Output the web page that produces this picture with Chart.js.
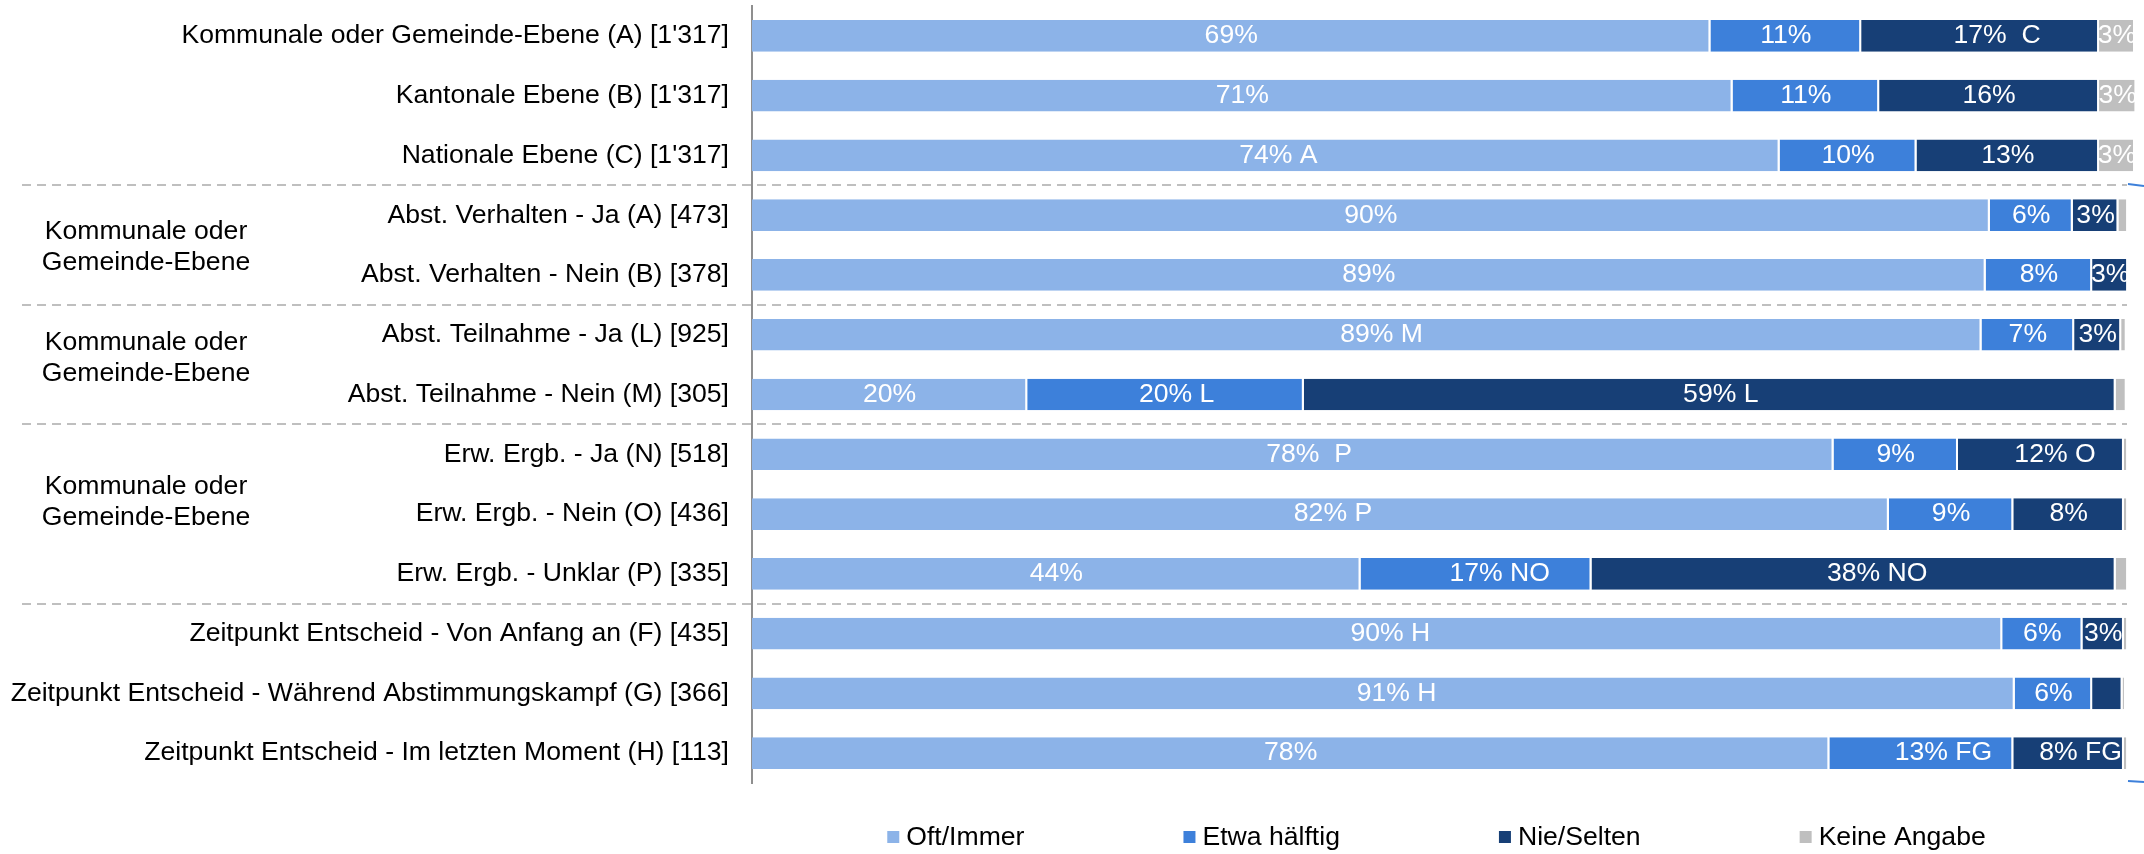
<!DOCTYPE html>
<html>
<head>
<meta charset="utf-8">
<title>Abstimmungsverhalten nach Ebene</title>
<script src="https://cdn.jsdelivr.net/npm/chart.js@4.4.1/dist/chart.umd.min.js"></script>
<style>
    html, body { margin: 0; padding: 0; background: #fff; }
    #wrap { width: 2144px; height: 854px; }
</style>
</head>
<body>
<div id="wrap"><canvas id="chart" width="2144" height="854"></canvas></div>
<script>
const FONT = "'Liberation Sans', Arial, Helvetica, sans-serif";
const TEXT_SIZE = 26.6;

const categories = [
    "Kommunale oder Gemeinde-Ebene (A) [1'317]",
    "Kantonale Ebene (B) [1'317]",
    "Nationale Ebene (C) [1'317]",
    'Abst. Verhalten - Ja (A) [473]',
    'Abst. Verhalten - Nein (B) [378]',
    'Abst. Teilnahme - Ja (L) [925]',
    'Abst. Teilnahme - Nein (M) [305]',
    'Erw. Ergb. - Ja (N) [518]',
    'Erw. Ergb. - Nein (O) [436]',
    'Erw. Ergb. - Unklar (P) [335]',
    'Zeitpunkt Entscheid - Von Anfang an (F) [435]',
    'Zeitpunkt Entscheid - Während Abstimmungskampf (G) [366]',
    'Zeitpunkt Entscheid - Im letzten Moment (H) [113]'
];

const seriesNames = ['Oft/Immer', 'Etwa hälftig', 'Nie/Selten', 'Keine Angabe'];
const seriesColors = ['#8CB3E8', '#3D80DA', '#173F76', '#BFBFBF'];

// shares in percent
const oftImmer     = [69.3, 70.9, 74.3, 89.5, 89.2, 88.9, 19.9, 78.2, 82.2, 44.0, 90.4, 91.3, 77.9];
const etwaHaelftig = [10.9, 10.6,  9.9,  6.0,  7.7,  6.7, 20.0,  9.0,  9.0, 16.7,  5.8,  5.6, 13.3];
const nieSelten    = [17.2, 15.9, 13.2,  3.3,  2.6,  3.4, 58.7, 12.0,  8.0, 37.9,  3.0,  2.2,  8.0];
const keineAngabe  = [ 2.6,  2.7,  2.6,  0.7,  0.0,  0.4,  0.8,  0.3,  0.3,  0.9,  0.3,  0.2,  0.3];

// significance letters shown after the percentages
const oftImmerSig     = ['', '', 'A', '', '', 'M', '', ' P', 'P', '', 'H', 'H', ''];
const etwaHaelftigSig = ['', '', '', '', '', '', 'L', '', '', 'NO', '', '', 'FG'];
const nieSeltenSig    = [' C', '', '', '', '', '', 'L', 'O', '', 'NO', '', '', 'FG'];
const keineAngabeSig  = ['', '', '', '', '', '', '', '', '', '', '', '', ''];

// row groups, shift = small vertical nudge of the group caption
const groups = [
    { first: 0, last: 2, label: [], shift: 0 },
    { first: 3, last: 4, label: ['Kommunale oder', 'Gemeinde-Ebene'], shift: 2 },
    { first: 5, last: 6, label: ['Kommunale oder', 'Gemeinde-Ebene'], shift: -6 },
    { first: 7, last: 9, label: ['Kommunale oder', 'Gemeinde-Ebene'], shift: -12 },
    { first: 10, last: 12, label: [], shift: 0 }
];

const MIN_LABEL = 2.5;

const overlayPlugin = {
    id: 'overlay',
    afterDatasetsDraw(chart) {
        const ctx = chart.ctx;
        const area = chart.chartArea;
        ctx.save();
        ctx.beginPath();
        ctx.rect(area.left, area.top, area.right - area.left, area.bottom - area.top);
        ctx.clip();
        ctx.font = `${TEXT_SIZE}px ${FONT}`;
        ctx.fillStyle = '#fff';
        ctx.textBaseline = 'middle';
        ctx.textAlign = 'left';
        chart.data.datasets.forEach((ds, i) => {
            const meta = chart.getDatasetMeta(i);
            meta.data.forEach((bar, j) => {
                const v = ds.data[j];
                if (v == null || v < MIN_LABEL) return;
                const p = bar.getProps(['x', 'base', 'y'], true);
                const cx = (p.x + p.base) / 2;
                const pct = Math.round(v) + '%';
                const w = ctx.measureText(pct).width;
                const sig = ds.sig[j] ? ' ' + ds.sig[j] : '';
                let left = cx - w / 2;
                if (sig) {
                    // keep the letters inside the bar
                    const right = left + w + ctx.measureText(sig).width;
                    if (right > p.x - 2) left = Math.max(p.base + 2, left - (right - (p.x - 2)));
                }
                ctx.fillText(pct + sig, left, p.y);
            });
        });
        ctx.restore();
    },
    afterDraw(chart) {
        const ctx = chart.ctx;
        const area = chart.chartArea;
        const yScale = chart.scales.y;
        const lineEnd = area.right - 8;

        ctx.save();
        // dashed separators between the groups
        ctx.strokeStyle = '#BFBFBF';
        ctx.lineWidth = 2;
        ctx.setLineDash([9, 6]);
        const sepYs = [];
        groups.slice(0, -1).forEach(g => {
            const y = Math.round((yScale.getPixelForTick(g.last) + yScale.getPixelForTick(g.last + 1)) / 2);
            sepYs.push(y);
            ctx.beginPath();
            ctx.moveTo(22, y);
            ctx.lineTo(lineEnd, y);
            ctx.stroke();
        });
        ctx.setLineDash([]);

        // small blue strokes at the right edge
        ctx.strokeStyle = '#3D80DA';
        ctx.beginPath();
        ctx.moveTo(lineEnd + 1, sepYs[0] - 1);
        ctx.lineTo(chart.width, sepYs[0] + 1);
        ctx.moveTo(lineEnd + 1, area.bottom - 2);
        ctx.lineTo(chart.width, area.bottom - 1);
        ctx.stroke();

        // group labels
        ctx.font = `${TEXT_SIZE}px ${FONT}`;
        ctx.fillStyle = '#000';
        ctx.textAlign = 'center';
        ctx.textBaseline = 'middle';
        groups.forEach(g => {
            if (!g.label.length) return;
            const mid = (yScale.getPixelForTick(g.first) + yScale.getPixelForTick(g.last)) / 2 + g.shift;
            const lh = 31;
            g.label.forEach((line, k) => {
                ctx.fillText(line, 146, mid + (k - (g.label.length - 1) / 2) * lh);
            });
        });

        // legend
        const box = 12, gap = 7, itemGap = 159;
        const widths = seriesNames.map(n => ctx.measureText(n).width);
        const total = widths.reduce((s, w) => s + box + gap + w, 0) + itemGap * (seriesNames.length - 1);
        let x = (area.left + area.right) / 2 - 7 - total / 2;
        const ly = 837;
        ctx.textAlign = 'left';
        seriesNames.forEach((name, i) => {
            ctx.fillStyle = seriesColors[i];
            ctx.fillRect(x, ly - box / 2, box, box);
            ctx.fillStyle = '#000';
            ctx.fillText(name, x + box + gap, ly + 1);
            x += box + gap + widths[i] + itemGap;
        });
        ctx.restore();
    }
};

function makeDataset(i, values, sig) {
    return {
        label: seriesNames[i],
        data: values,
        sig: sig,
        backgroundColor: seriesColors[i],
        borderColor: '#fff',
        borderWidth: { top: 0, bottom: 0, left: 0, right: 2 },
        borderSkipped: false,
        barPercentage: 0.53,
        categoryPercentage: 1
    };
}

new Chart(document.getElementById('chart'), {
    type: 'bar',
    data: {
        labels: categories,
        datasets: [
            makeDataset(0, oftImmer, oftImmerSig),
            makeDataset(1, etwaHaelftig, etwaHaelftigSig),
            makeDataset(2, nieSelten, nieSeltenSig),
            makeDataset(3, keineAngabe, keineAngabeSig)
        ]
    },
    options: {
        indexAxis: 'y',
        responsive: false,
        animation: false,
        devicePixelRatio: 1,
        layout: { padding: { top: 6, right: 9, bottom: 71, left: 0 } },
        plugins: {
            legend: { display: false },
            tooltip: { enabled: false }
        },
        scales: {
            x: {
                display: false,
                stacked: true,
                min: 0,
                max: 100
            },
            y: {
                stacked: true,
                grid: { display: false, drawTicks: false },
                border: { display: true, color: '#8F8F8F', width: 2 },
                ticks: {
                    autoSkip: false,
                    padding: 23,
                    color: '#000',
                    font: { family: FONT, size: TEXT_SIZE }
                },
                afterFit(scale) {
                    scale.width = 752;
                    scale.paddingTop = 0;
                    scale.paddingBottom = 0;
                }
            }
        }
    },
    plugins: [overlayPlugin]
});
</script>
</body>
</html>
